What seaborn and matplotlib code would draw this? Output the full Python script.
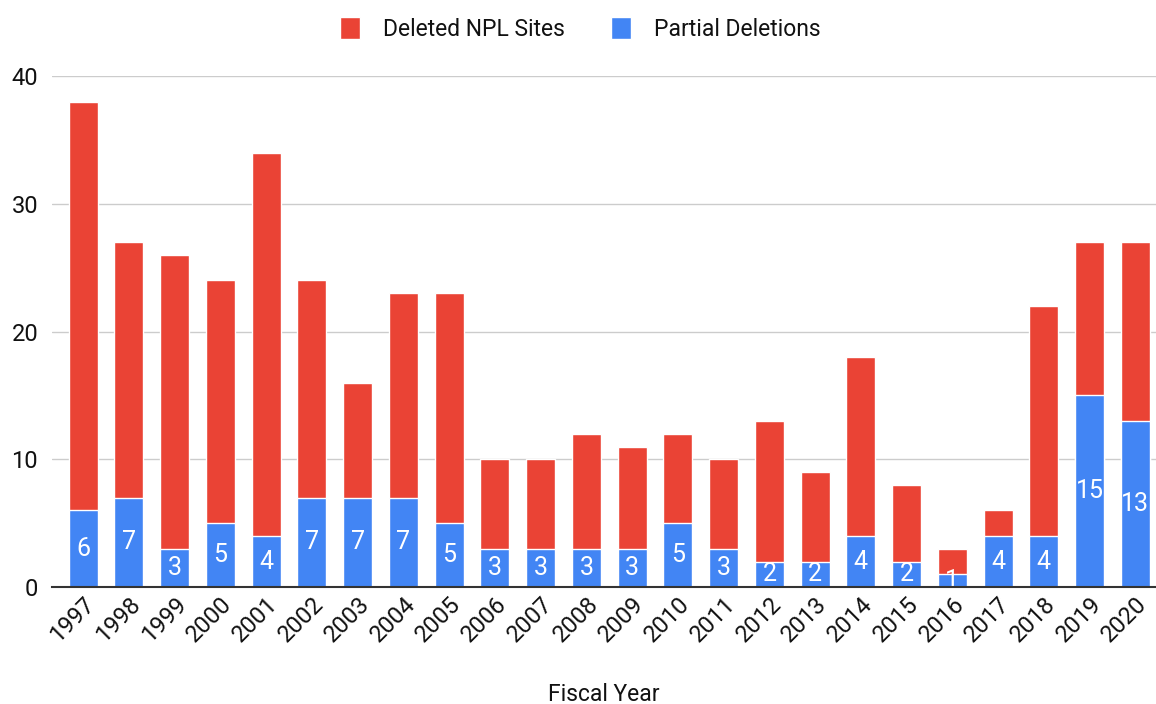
import matplotlib
matplotlib.use('Agg')
import matplotlib.pyplot as plt
import pandas as pd
import seaborn as sns
from matplotlib.patches import Patch

years = [str(y) for y in range(1997, 2021)]
partial = [6, 7, 3, 5, 4, 7, 7, 7, 5, 3, 3, 3, 3, 5, 3, 2, 2, 4, 2, 1, 4, 4, 15, 13]
deleted = [32, 20, 23, 19, 30, 17, 9, 16, 18, 7, 7, 9, 8, 7, 7, 11, 7, 14, 6, 2, 2, 18, 12, 14]

df = pd.DataFrame({'year': years, 'partial': partial, 'deleted': deleted})
df['total'] = df.partial + df.deleted

RED = '#EA4335'
BLUE = '#4285F4'

sns.set_style('white')
plt.rcParams['font.family'] = ['Roboto', 'DejaVu Sans']
plt.rcParams['text.color'] = '#111111'

fig = plt.figure(figsize=(11.56, 7.04), dpi=100)
ax = fig.add_axes([0.045, 0.166, 0.955, 0.726])

# red on top: draw totals first, then the blue part over it
sns.barplot(x='year', y='total', data=df, color=RED, ax=ax, width=0.63, saturation=1)
sns.barplot(x='year', y='partial', data=df, color=BLUE, ax=ax, width=0.63, saturation=1)

for i, v in enumerate(partial):
    ax.text(i, v / 2, str(v), ha='center', va='center', color='white', fontsize=18)

ax.set_ylim(0, 40)
ax.set_xlim(-0.68, 23.45)
ax.set_yticks([0, 10, 20, 30, 40])
ax.grid(axis='y', color='#cccccc', linewidth=1)
ax.set_axisbelow(True)
for s in ['top', 'right', 'left']:
    ax.spines[s].set_visible(False)
ax.spines['bottom'].set_color('#333333')
ax.spines['bottom'].set_linewidth(1.5)
ax.spines['bottom'].set_zorder(5)
ax.tick_params(axis='y', labelsize=17, length=0, pad=10, labelcolor='#111111')
ax.tick_params(axis='x', labelsize=17, length=0, pad=4, labelcolor='#111111')
plt.setp(ax.get_xticklabels(), rotation=45, ha='right', rotation_mode='anchor')
ax.set_ylabel('')
ax.set_xlabel('Fiscal Year', fontsize=16.5, labelpad=26, color='#111111')

handles = [Patch(facecolor=RED, label='Deleted NPL Sites'),
           Patch(facecolor=BLUE, label='Partial Deletions')]
fig.legend(handles=handles, loc='upper center', bbox_to_anchor=(0.502, 1.005), ncol=2,
           frameon=False, fontsize=16.5, handlelength=0.9, handleheight=1.1,
           columnspacing=2.0, handletextpad=1.0)

fig.savefig('out.png', dpi=100)
